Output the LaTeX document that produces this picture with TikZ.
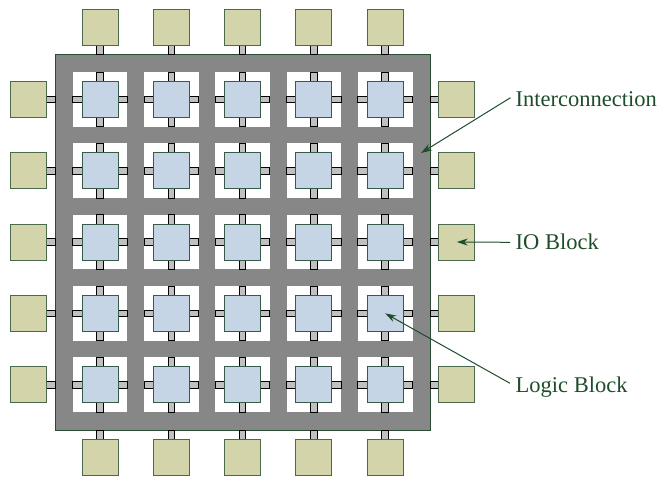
\documentclass[tikz,border=0pt]{standalone}
\usepackage{fontspec}
\setmainfont{Liberation Serif}
\usetikzlibrary{arrows.meta}
\definecolor{panelgray}{RGB}{135,135,135}
\definecolor{panelborder}{RGB}{40,75,50}
\definecolor{iofill}{RGB}{211,212,170}
\definecolor{ioborder}{RGB}{75,105,75}
\definecolor{logicfill}{RGB}{197,213,229}
\definecolor{logicborder}{RGB}{55,90,75}
\definecolor{tabfill}{RGB}{192,192,192}
\definecolor{txtgreen}{RGB}{30,77,43}
\tikzset{
  panel/.style={fill=panelgray, draw=panelborder, line width=1pt},
  cellbg/.style={fill=white},
  logic/.style={draw=logicborder, fill=logicfill, line width=1pt, minimum size=36pt, inner sep=0pt},
  iob/.style={draw=ioborder, fill=iofill, line width=1pt, minimum size=36pt, inner sep=0pt},
  tabbox/.style={draw=black, fill=tabfill, line width=0.9pt},
  lbl/.style={font=\fontsize{22.5pt}{26pt}\selectfont, text=txtgreen, inner sep=0pt, anchor=base west},
  arr/.style={draw=txtgreen, line width=1pt, -{Stealth[length=11pt,width=7pt]}}
}
\begin{document}
\begin{tikzpicture}[x=1pt,y=-1pt]
\useasboundingbox (0,0) rectangle (659,477);
% panel
\draw[panel] (55.3,54.3) rectangle (430,430);
% cells
\foreach \i in {0,...,4}{
  \foreach \j in {0,...,4}{
    \pgfmathsetmacro\cx{100+71.3*\i}
    \pgfmathsetmacro\cy{99.3+71.35*\j}
    \fill[cellbg] (\cx-27.3,\cy-27.3) rectangle (\cx+27.3,\cy+27.3);
    \draw[tabbox] (\cx-3.3,\cy-27.3) rectangle (\cx+3.3,\cy-18);
    \draw[tabbox] (\cx-3.3,\cy+18) rectangle (\cx+3.3,\cy+27.3);
    \draw[tabbox] (\cx-27.3,\cy-3.3) rectangle (\cx-18,\cy+3.3);
    \draw[tabbox] (\cx+18,\cy-3.3) rectangle (\cx+27.3,\cy+3.3);
    \node[logic] (L-\i-\j) at (\cx,\cy) {};
  }
}
% IO blocks
\foreach \i in {0,...,4}{
  \pgfmathsetmacro\cx{100+71.3*\i}
  \pgfmathsetmacro\cy{99.3+71.35*\i}
  \draw[tabbox] (\cx-3.3,45.3) rectangle (\cx+3.3,54.3);
  \node[iob] (IOT-\i) at (\cx,27.3) {};
  \draw[tabbox] (\cx-3.3,430) rectangle (\cx+3.3,439.3);
  \node[iob] (IOB-\i) at (\cx,457.3) {};
  \draw[tabbox] (46.5,\cy-3.3) rectangle (55.3,\cy+3.3);
  \node[iob] (IOL-\i) at (28.5,\cy) {};
  \draw[tabbox] (430,\cy-3.3) rectangle (438.8,\cy+3.3);
  \node[iob] (IOR-\i) at (456.8,\cy) {};
}
% labels
\node[lbl] (tI) at (515.5,106) {Interconnection};
\node[lbl] (tO) at (515.5,249) {IO Block};
\node[lbl] (tL) at (515.5,392.7) {Logic Block};
\coordinate (ic) at (421,153);
\draw[arr] ([shift={(-5pt,8.3pt)}]tI.base west) -- (ic);
\draw[arr] ([shift={(-5.5pt,6.7pt)}]tO.base west) -- (IOR-2.center);
\draw[arr] ([shift={(-5.5pt,9.4pt)}]tL.base west) -- (L-4-3.center);
\end{tikzpicture}
\end{document}
